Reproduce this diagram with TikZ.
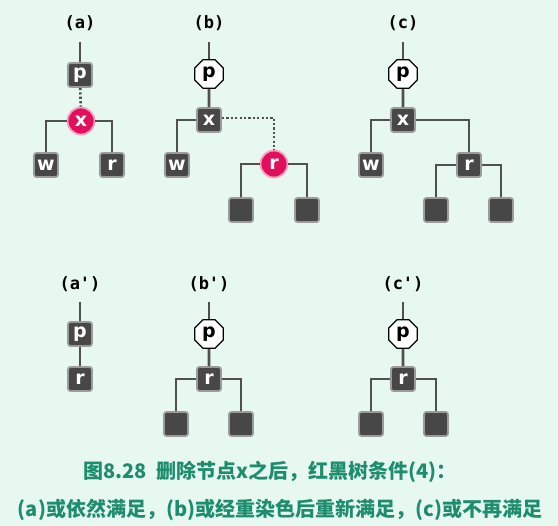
\documentclass[tikz,border=0pt]{standalone}
\usepackage{fontspec}
\usetikzlibrary{shapes.geometric}
\newfontfamily\cjk{Noto Sans CJK SC}
\newfontfamily\nodefont{DejaVu Sans}
\newfontfamily\labfont{DejaVu Sans Mono}

\definecolor{bgmint}{RGB}{230,248,239}
\definecolor{edgegray}{RGB}{80,80,80}
\definecolor{blkfill}{RGB}{71,71,71}
\definecolor{blkrim}{RGB}{155,155,155}
\definecolor{redfill}{RGB}{226,16,92}
\definecolor{redrim}{RGB}{244,160,190}
\definecolor{capgreen}{RGB}{30,140,110}

\tikzset{every picture/.style={line width=0.75pt}}
\tikzset{
  blk/.style={rectangle,rounded corners=2.5pt,fill=blkfill,draw=blkrim,line width=1.8pt,
    minimum size=24pt,inner sep=0pt,text=white,font=\nodefont\bfseries\fontsize{19}{19}\selectfont},
  rednd/.style={circle,fill=redfill,draw=redrim,line width=1.8pt,
    minimum size=27pt,inner sep=0pt,text=white,font=\nodefont\bfseries\fontsize{19}{19}\selectfont},
  octo/.style={regular polygon,regular polygon sides=8,fill=white,draw=black,line width=1.3pt,
    minimum size=31pt,inner sep=0pt,text=black,font=\nodefont\bfseries\fontsize{19}{19}\selectfont},
  tag/.style={font=\labfont\bfseries\fontsize{17}{17}\selectfont,text=black},
  edge/.style={draw=edgegray,line width=2.6pt},
  dotedge/.style={draw=edgegray,line width=2.6pt,dash pattern=on 2.2pt off 2.2pt}
}

\begin{document}
\begin{tikzpicture}[x=1pt,y=1pt,yscale=-1,xscale=1]
\fill [bgmint] (0,0) rectangle (558,526);
\useasboundingbox (0,0) rectangle (558,526);

%Tree (a)
\draw (80,23) node [tag] {(a)};
\coordinate (ta) at (80,42);
\draw (80,75) node [blk] (pa) {p};
\draw (81,121) node [rednd] (xa) {x};
\draw (46,165) node [blk] (wa) {w};
\draw (112,165) node [blk] (ra) {r};
\draw [edge] (ta) -- (pa);
\draw [dotedge] (pa) -- (xa);
\draw [edge] (xa) -| (wa);
\draw [edge] (xa) -| (ra);

%Tree (b)
\draw (209,23) node [tag] {(b)};
\coordinate (tb) at (209,42);
\draw (209,74) node [octo] (pb) {p};
\draw (209,120) node [blk] (xb) {x};
\draw (177,165) node [blk] (wb) {w};
\draw (274,164) node [rednd] (rb) {r};
\draw (241,210) node [blk] (lb1) {};
\draw (307,210) node [blk] (lb2) {};
\draw [edge] (tb) -- (pb);
\draw [edge] (pb) -- (xb);
\draw [edge] (xb) -| (wb);
\draw [dotedge] (xb.east |- 0,118) -| (rb);
\draw [edge] (rb) -| (lb1);
\draw [edge] (rb) -| (lb2);

%Tree (c)
\draw (403,23) node [tag] {(c)};
\coordinate (tc) at (403,42);
\draw (403,74) node [octo] (pc) {p};
\draw (403,120) node [blk] (xc) {x};
\draw (371,165) node [blk] (wc) {w};
\draw (469,165) node [blk] (rc) {r};
\draw (436,210) node [blk] (lc1) {};
\draw (501,210) node [blk] (lc2) {};
\draw [edge] (tc) -- (pc);
\draw [edge] (pc) -- (xc);
\draw [edge] (xc) -| (wc);
\draw [edge] (xc) -| (rc);
\draw [edge] (rc) -| (lc1);
\draw [edge] (rc) -| (lc2);

%Tree (a')
\draw (80,284) node [tag] {(a')};
\coordinate (ta2) at (80,302);
\draw (80,334) node [blk] (pa2) {p};
\draw (80,379) node [blk] (ra2) {r};
\draw [edge] (ta2) -- (pa2);
\draw [edge] (pa2) -- (ra2);

%Tree (b')
\draw (209,284) node [tag] {(b')};
\coordinate (tb2) at (209,302);
\draw (209,334) node [octo] (pb2) {p};
\draw (209,379) node [blk] (rb2) {r};
\draw (176,424) node [blk] (lb3) {};
\draw (241,424) node [blk] (lb4) {};
\draw [edge] (tb2) -- (pb2);
\draw [edge] (pb2) -- (rb2);
\draw [edge] (rb2) -| (lb3);
\draw [edge] (rb2) -| (lb4);

%Tree (c')
\draw (403,284) node [tag] {(c')};
\coordinate (tc2) at (403,302);
\draw (403,334) node [octo] (pc2) {p};
\draw (403,379) node [blk] (rc2) {r};
\draw (371,424) node [blk] (lc3) {};
\draw (436,424) node [blk] (lc4) {};
\draw [edge] (tc2) -- (pc2);
\draw [edge] (pc2) -- (rc2);
\draw [edge] (rc2) -| (lc3);
\draw [edge] (rc2) -| (lc4);

% Caption
\draw (270,472) node [text=capgreen,font=\cjk\bfseries\fontsize{20}{20}\selectfont] (cap1) {图8.28\ \ 删除节点x之后，红黑树条件(4)：};
\draw (280,510) node [text=capgreen,font=\cjk\bfseries\fontsize{20}{20}\selectfont] (cap2) {(a)或依然满足，(b)或经重染色后重新满足，(c)或不再满足};

\end{tikzpicture}
\end{document}
